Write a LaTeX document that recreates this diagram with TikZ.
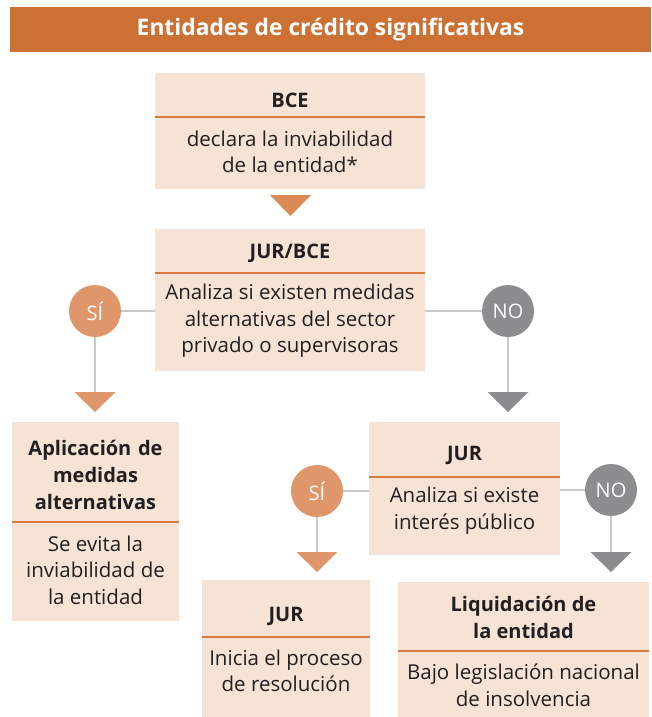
\documentclass[tikz,border=0pt]{standalone}
\usepackage{fontspec}
\setmainfont{Open Sans}
\usetikzlibrary{calc}
\definecolor{banner}{HTML}{CC7034}
\definecolor{boxfill}{HTML}{F5E4D6}
\definecolor{sepcol}{HTML}{D97A3C}
\definecolor{sicol}{HTML}{DF966A}
\definecolor{tri1}{HTML}{D98A56}
\definecolor{nocol}{HTML}{8D8D90}
\definecolor{conncol}{HTML}{C9C9CD}
\definecolor{txt}{HTML}{231F20}
\tikzset{
  box/.style={fill=boxfill, draw=none, inner sep=0pt},
  sepline/.style={draw=sepcol, line width=2.6pt},
  hdr/.style={font=\fontsize{20}{27}\selectfont\bfseries, text=txt, align=center, inner sep=0pt},
  body/.style={font=\fontsize{20.5}{26.5}\selectfont, text=txt, align=center, inner sep=0pt},
  sinode/.style={circle, fill=sicol, minimum size=52pt, inner sep=0pt, text=white, font=\fontsize{20}{22}\selectfont},
  nonode/.style={circle, fill=nocol, minimum size=52pt, inner sep=0pt, text=white, font=\fontsize{20}{22}\selectfont},
  conn/.style={draw=conncol, line width=2.8pt},
}
\begin{document}
\begin{tikzpicture}[x=1pt, y=-1pt]
\useasboundingbox (0,0) rectangle (651,717);
% banner
\node[fill=banner, minimum width=641pt, minimum height=45pt, inner sep=0pt, text=white,
  font=\fontsize{22.8}{26}\selectfont\bfseries] (title) at (330.5,29.5) {Entidades de crédito significativas};
% BCE box
\node[box, minimum width=270pt, minimum height=116pt] (b1) at (290,131) {};
\draw[sepline] (155,117) -- (425,117);
\node[hdr] (b1h) at (290,100) {BCE};
\node[body] (b1b) at (290,152) {declara la inviabilidad\\de la entidad*};
\fill[tri1] (270,195) -- (311,195) -- (290.5,216) -- cycle;
% JUR/BCE box
\node[box, minimum width=270pt, minimum height=142pt] (b2) at (290,300) {};
\draw[sepline] (155,273) -- (425,273);
\node[hdr] (b2h) at (290,253) {JUR/BCE};
\node[body] (b2b) at (290,321) {Analiza si existen medidas\\alternativas del sector\\privado o supervisoras};
% SI 1
\node[sinode] (si1) at (95,311) {SÍ};
\coordinate (t2top) at (95,392);
\draw[conn] (si1.east) -- (b2.west |- si1);
\draw[conn] (si1.south) -- (t2top);
\fill[sicol] (74.5,392) -- (115.5,392) -- (95,412) -- cycle;
% NO 1
\node[nonode] (no1) at (508,311) {NO};
\coordinate (t3top) at (508,392);
\draw[conn] (b2.east |- no1) -- (no1.west);
\draw[conn] (no1.south) -- (t3top);
\fill[nocol] (487.5,392) -- (528.5,392) -- (508,412) -- cycle;
% Aplicacion box
\node[box, minimum width=167pt, minimum height=199pt] (b3) at (95.5,521.5) {};
\draw[sepline] (12,522) -- (179,522);
\node[hdr, text width=165pt] (b3h) at (95.5,475) {Aplicación de\\medidas\\alternativas};
\node[body] (b3b) at (95.5,570) {Se evita la\\inviabilidad de\\la entidad};
% JUR analiza interes box
\node[box, minimum width=191pt, minimum height=133pt] (b4) at (464.5,488.5) {};
\draw[sepline] (369,477) -- (560,477);
\node[hdr] (b4h) at (464.5,455) {JUR};
\node[body] (b4b) at (464.5,510.5) {Analiza si existe\\interés público};
% SI 2
\node[sinode] (si2) at (317,491) {SÍ};
\coordinate (t4top) at (317,552);
\draw[conn] (si2.east) -- (b4.west |- si2);
\draw[conn] (si2.south) -- (t4top);
\fill[sicol] (296.5,552) -- (337.5,552) -- (317,572) -- cycle;
% NO 2
\node[nonode] (no2) at (611,490) {NO};
\coordinate (t5top) at (611,552);
\draw[conn] (b4.east |- no2) -- (no2.west);
\draw[conn] (no2.south) -- (t5top);
\fill[nocol] (590.5,552) -- (631.5,552) -- (611,572) -- cycle;
% JUR inicia box
\node[box, minimum width=168pt, minimum height=137pt] (b5) at (286,648.5) {};
\draw[sepline] (202,637) -- (370,637);
\node[hdr] (b5h) at (286,616) {JUR};
\node[body] (b5b) at (286,671) {Inicia el proceso\\de resolución};
% Liquidacion box
\node[box, minimum width=251pt, minimum height=135pt] (b6) at (523.5,649.5) {};
\draw[sepline] (398,651) -- (649,651);
\node[hdr] (b6h) at (523.5,617.5) {Liquidación de\\la entidad};
\node[body] (b6b) at (523.5,685) {Bajo legislación nacional\\de insolvencia};
\end{tikzpicture}
\end{document}
